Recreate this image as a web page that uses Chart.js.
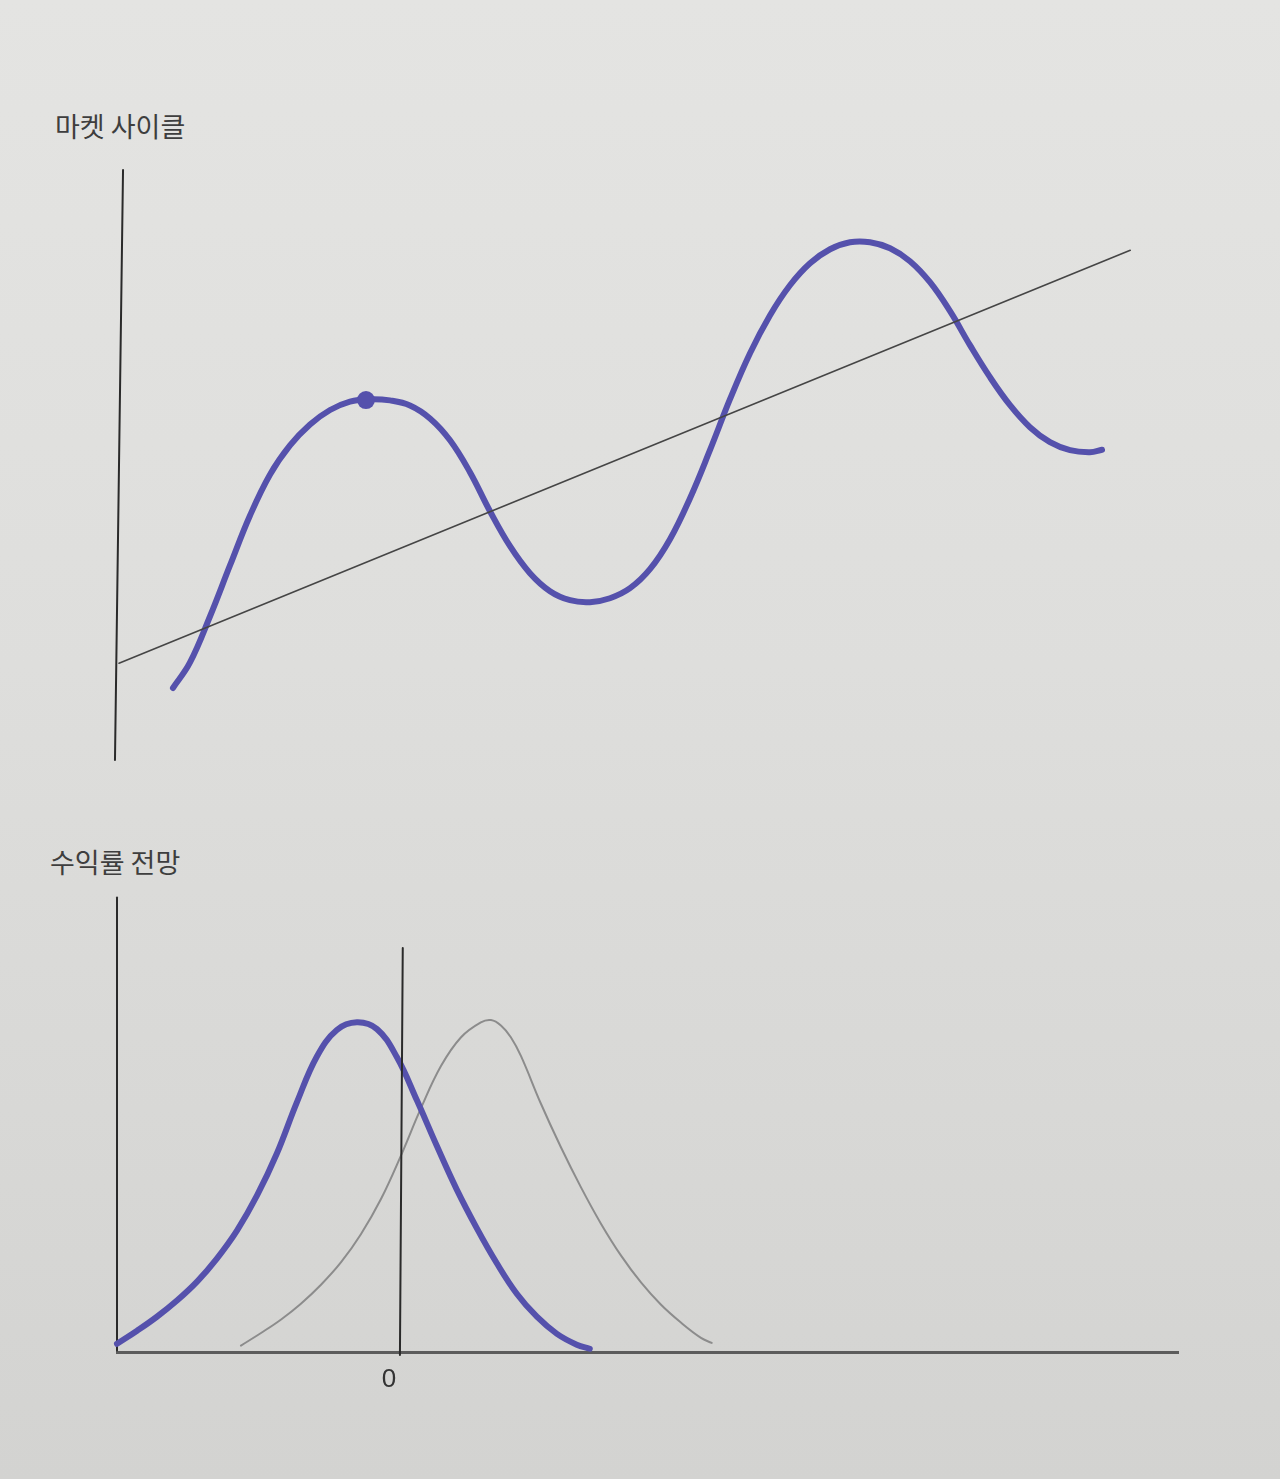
<!DOCTYPE html>
<html><head><meta charset="utf-8">
<script src="https://cdn.jsdelivr.net/npm/chart.js@4/dist/chart.umd.min.js"></script>
<style>
html,body{margin:0;padding:0;}
body{width:1280px;height:1479px;position:relative;overflow:hidden;
 background:linear-gradient(180deg,#e4e4e2 0%,#dededc 45%,#d3d3d1 100%);
 font-family:"Noto Sans CJK KR","Noto Sans",sans-serif;}
.t{position:absolute;font-size:27px;line-height:1;color:#3e3e3e;white-space:nowrap;}
.w{position:absolute;left:0;width:1280px;}
</style></head><body>
<div class="t" style="left:55px;top:112px">마켓 사이클</div>
<div class="t" style="left:50px;top:848px">수익률 전망</div>
<div class="w" style="top:0;height:800px"><canvas id="c1"></canvas></div>
<div class="w" style="top:840px;height:620px"><canvas id="c2"></canvas></div>
<script>
// ---- Top chart: market cycle ----
const cycleX = [5.09,6.70,8.58,10.47,12.36,14.25,16.13,18.02,19.91,21.79,23.68,25.57,27.45,29.34,31.23,33.11,35.00,36.89,38.77,40.66,42.55,44.43,46.32,48.21,50.09,51.98,53.87,55.75,57.64,59.53,61.42,63.30,65.19,67.08,68.96,70.85,72.74,74.62,76.51,78.40,80.28,82.17,84.06,85.94,87.83,89.72,91.60,92.74];
const cycleY = [12.20,16.53,24.32,32.97,41.44,48.39,53.31,56.86,59.32,60.75,61.15,60.95,60.10,57.90,54.20,48.78,42.17,36.24,31.66,28.61,27.08,26.75,27.42,29.12,32.34,37.42,44.37,52.51,61.15,68.95,75.39,80.47,84.20,86.57,87.76,87.76,86.74,84.54,80.98,76.07,70.31,64.88,60.14,56.41,53.86,52.51,52.17,52.58];
const trendX = [0, 95.4];
const trendY = [16.4, 86.4];
const peakX = [23.3];
const peakY = [61.0];

// ---- Bottom chart: return outlook ----
const outlookX = [-10.0,-9.29,-8.59,-7.88,-7.17,-6.47,-5.76,-5.05,-4.35,-3.64,-2.93,-2.23,-1.52,-0.81,-0.11,0.60,1.31,2.01,2.72,3.43,4.13,4.84,5.55,6.25,6.71];
const outlookY = [2.0,4.9,8.0,11.6,15.8,20.9,27.1,34.9,44.2,55.6,65.8,71.6,73.3,71.8,65.6,56.0,45.8,36.2,27.6,19.8,13.1,8.0,4.2,1.8,0.9];
const shiftedX = [-5.62,-4.91,-4.20,-3.50,-2.79,-2.08,-1.38,-0.67,0.04,0.74,1.45,2.16,2.86,3.22,3.57,3.92,4.28,4.98,5.69,6.40,7.10,7.81,8.52,9.22,9.93,10.64,11.02];
const shiftedY = [1.6,4.4,7.4,10.9,15.1,20.1,26.3,34.1,43.8,54.2,63.6,70.0,73.3,73.8,72.6,70.0,65.8,55.3,45.6,36.7,28.7,21.6,15.6,10.7,6.7,3.3,2.2];
const xTicks = [0];

const BLUE = '#5551ac';
const pts = (xs, ys) => xs.map((x, i) => ({x, y: ys[i]}));
const lineDs = (data, color, width, extra) => Object.assign({
  type: 'line', data, borderColor: color, borderWidth: width, pointRadius: 0,
  fill: false, clip: false, borderCapStyle: 'round', borderJoinStyle: 'round', tension: 0
}, extra || {});
const smooth = {tension: 0.4};

const common = {
  responsive: true, maintainAspectRatio: false, animation: false, events: [],
  plugins: {legend: {display: false}, tooltip: {enabled: false}, title: {display: false}}
};

new Chart(document.getElementById('c1'), {
  type: 'line',
  data: {datasets: [
    lineDs(pts(trendX, trendY), '#454545', 1.6),
    {type: 'scatter', data: pts(peakX, peakY), pointRadius: 9, pointBackgroundColor: BLUE, pointBorderWidth: 0, clip: false, showLine: false},
    lineDs(pts(cycleX, cycleY), BLUE, 6, smooth),
    lineDs([{x: 0.38, y: 100}, {x: -0.38, y: 0}], '#2a2a2a', 2)
  ]},
  options: Object.assign({}, common, {
    layout: {padding: {left: 119, right: 101, top: 170, bottom: 40}},
    scales: {
      x: {type: 'linear', min: 0, max: 100, display: false},
      y: {type: 'linear', min: 0, max: 100, display: false}
    }
  })
});

new Chart(document.getElementById('c2'), {
  type: 'line',
  data: {datasets: [
    lineDs([{x: 0, y: -0.5}, {x: 0.1, y: 89.8}], '#2a2a2a', 2),
    lineDs(pts(outlookX, outlookY), BLUE, 6, smooth),
    lineDs(pts(shiftedX, shiftedY), '#8c8c8c', 2, smooth),
    lineDs([{x: -10, y: 0.5}, {x: -10, y: 101}], '#2a2a2a', 2)
  ]},
  options: Object.assign({}, common, {
    layout: {padding: {left: 117, right: 102, top: 62, bottom: 54}},
    scales: {
      x: {type: 'linear', min: -10, max: 27.5, display: true,
        grid: {display: false, drawTicks: false},
        border: {display: true, color: '#5c5c5c', width: 3},
        afterBuildTicks: (s) => { s.ticks = xTicks.map(v => ({value: v})); },
        ticks: {font: {size: 26, family: 'Liberation Sans'}, color: '#333', padding: 11,
          labelOffset: -11, autoSkip: false, maxRotation: 0, callback: (v) => String(v)}
      },
      y: {type: 'linear', min: 0, max: 100, display: false}
    }
  })
});
</script>
</body></html>
